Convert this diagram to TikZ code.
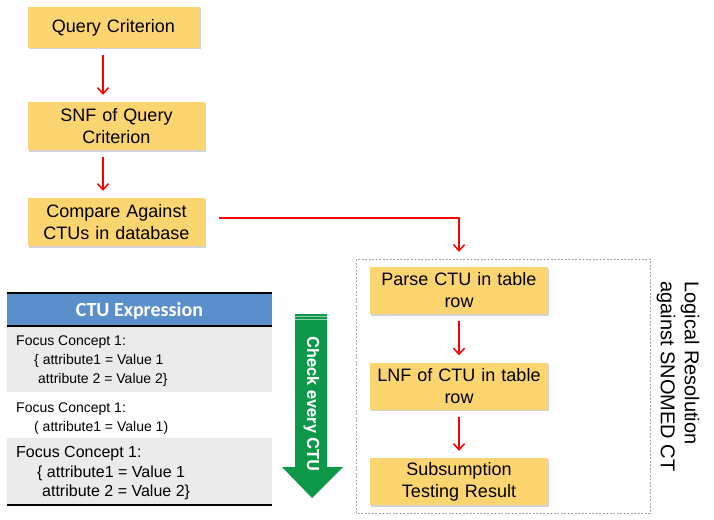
\documentclass[tikz,border=0pt]{standalone}
\usepackage{fontspec}
\setmainfont{Liberation Sans}
\newfontfamily\headfont{Carlito}
\newfontfamily\checkfont{TeX Gyre Heros}
\usetikzlibrary{positioning,arrows.meta,shadows}
\definecolor{boxyellow}{RGB}{252,213,112}
\definecolor{headblue}{RGB}{91,143,204}
\definecolor{rowgray}{RGB}{235,235,235}
\definecolor{checkgreen}{RGB}{12,152,72}
\tikzstyle{process} = [rectangle, minimum width=177pt, minimum height=48pt, text width=172pt, align=center, inner sep=0pt, fill=boxyellow, font=\fontsize{18}{22}\selectfont, drop shadow={shadow xshift=1pt, shadow yshift=-1.5pt, opacity=0.35}]
\tikzstyle{arrow} = [red, line width=1.5pt, shorten <=7pt, shorten >=7pt, -{Straight Barb[length=6pt,width=11pt]}]
\tikzstyle{rowtext} = [anchor=north west, align=left, inner sep=0pt]

\begin{document}
\begin{tikzpicture}[x=1pt, y=1pt, node distance=96pt]
        \useasboundingbox (0,0) rectangle (714,-519);

        % Nodes
        \node (query) [process, minimum width=171pt, minimum height=41pt] at (113.5,-27.5) {Query Criterion};
        \node (snf) [process] at (116.5,-126) {SNF of Query\\Criterion};
        \node (compare) [process, below of=snf] {Compare Against\\CTUs in database};
        \coordinate (leftaxis) at (103,0);

        \node (parse) [process, minimum width=178pt, minimum height=47pt] at (459,-290.5) {Parse CTU in table\\row};
        \node (lnf) [process, minimum width=178pt, minimum height=47pt, below of=parse, node distance=95.5pt] {LNF of CTU in table\\row};
        \node (subs) [process, minimum width=178pt, minimum height=47pt, below of=lnf, node distance=95.5pt] {Subsumption\\Testing Result};

        % Resolution frame
        \draw [gray!70, line width=0.6pt, dash pattern=on 2pt off 1.5pt] (356,-259) rectangle (650,-513);
        \node (logic) [rotate=-90, anchor=west, align=left, inner sep=0pt, font=\fontsize{20}{24}\selectfont] at (678,-281) {Logical Resolution\\against SNOMED CT};

        % Arrows
        \draw [arrow] (query.south -| leftaxis) -- (snf.north -| leftaxis);
        \draw [arrow] (snf.south -| leftaxis) -- (compare.north -| leftaxis);
        \draw [arrow, shorten <=0pt, shorten >=0pt] ([xshift=14pt, yshift=4pt]compare.east) -| ([yshift=15pt]parse.north);
        \draw [arrow] (parse) -- (lnf);
        \draw [arrow] (lnf) -- (subs);

        % CTU table
        \fill [headblue] (7,-294) rectangle (272,-326);
        \fill [rowgray] (7,-326) rectangle (272,-392);
        \fill [rowgray] (7,-438) rectangle (272,-504);
        \draw [line width=2pt] (7,-293) -- (272,-293);
        \draw [line width=1.2pt] (7,-326) -- (272,-326);
        \draw [line width=2pt] (7,-505) -- (272,-505);
        \node (ctuhead) [text=white, font=\headfont\bfseries\fontsize{20}{24}\selectfont] at (139.5,-311) {CTU Expression};
        \node (row1) [rowtext, font=\fontsize{14}{19}\selectfont] at (16,-336) {Focus Concept 1:\\\hspace*{18pt}\{ attribute1 = Value 1\\\hspace*{22pt}attribute 2 = Value 2\}};
        \node (row2) [rowtext, font=\fontsize{14}{19}\selectfont] at (16,-402.5) {Focus Concept 1:\\\hspace*{18pt}( attribute1 = Value 1)};
        \node (row3) [rowtext, font=\fontsize{16}{19.5}\selectfont] at (16,-446.5) {Focus Concept 1:\\\hspace*{21pt}\{ attribute1 = Value 1\\\hspace*{26pt}attribute 2 = Value 2\}};

        % Check arrow
        \fill [checkgreen] (295,-314) -- (327,-314) -- (327,-467) -- (343,-467) -- (312,-498) -- (282,-467) -- (295,-467) -- cycle;
        \draw [white!55!checkgreen, line width=0.7pt] (295,-316) -- (327,-316);
        \draw [white!55!checkgreen, line width=0.7pt] (295,-319) -- (327,-319);
        \node (check) [rotate=-90, text=white, font=\checkfont\bfseries\fontsize{16.5}{20}\selectfont] at (311.5,-404) {Check every CTU};

\end{tikzpicture}
\end{document}
